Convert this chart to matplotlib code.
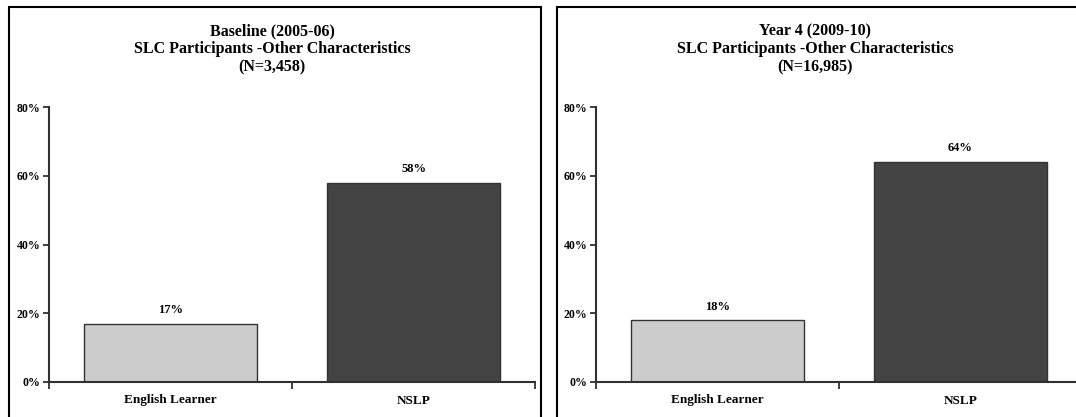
import numpy as np
import matplotlib
matplotlib.use("Agg")
import matplotlib.pyplot as plt
from matplotlib.patches import Rectangle
from matplotlib.ticker import FixedLocator, PercentFormatter

plt.rcParams['font.family'] = ['Liberation Serif', 'DejaVu Serif']
plt.rcParams['font.weight'] = 'bold'

categories = ['English Learner', 'NSLP']
baseline_vals = [17, 58]
year4_vals = [18, 64]
panel_titles = ['Baseline (2005-06)\nSLC Participants -Other Characteristics\n(N=3,458)',
                'Year 4 (2009-10)\nSLC Participants -Other Characteristics\n(N=16,985)']
bar_colors = ['#cccccc', '#434343']

W, H = 1076, 417
fig = plt.figure(figsize=(W / 100, H / 100), dpi=100)

def px(x, y):
    # pixel position (from top-left) -> figure fraction
    return x / W, 1 - y / H

def draw_panel(box_left, box_width, ax_left, title_x, vals, title):
    # outer frame of the panel, runs off the bottom edge
    fig.patches.append(Rectangle((box_left / W, -0.1), box_width / W, 1.1 - 7 / H,
                                 transform=fig.transFigure, fill=False,
                                 edgecolor='black', linewidth=1.5, zorder=0))
    tx, ty = px(title_x, 23)
    fig.text(tx, ty, title, ha='center', va='top', fontsize=11.5,
             fontweight='bold', linespacing=1.18)

    ax = fig.add_axes([ax_left / W, (H - 382) / H, 486 / W, 275 / H])
    x = np.arange(len(categories))
    bars = ax.bar(x, vals, width=0.716, color=bar_colors,
                  edgecolor='#333333', linewidth=1.0, zorder=2)
    for b, v in zip(bars, vals):
        ax.text(b.get_x() + b.get_width() / 2, v + 2.2, f'{v}%',
                ha='center', va='bottom', fontsize=9, fontweight='bold')
    ax.set_xlim(-0.5, 1.5)
    ax.set_ylim(0, 80)
    ax.set_yticks([0, 20, 40, 60, 80])
    ax.yaxis.set_major_formatter(PercentFormatter(decimals=0))
    ax.set_xticks(x)
    ax.set_xticklabels(categories)
    ax.xaxis.set_minor_locator(FixedLocator([-0.5, 0.5, 1.5]))
    ax.tick_params(axis='x', which='major', length=0, pad=9, labelsize=9.5)
    ax.tick_params(axis='x', which='minor', length=5, width=1.3,
                   direction='out', color='#303030')
    ax.tick_params(axis='y', length=4, width=1.3, direction='out',
                   color='#303030', labelsize=8.5, pad=2)
    for lab in ax.get_xticklabels() + ax.get_yticklabels():
        lab.set_fontweight('bold')
    for s in ['top', 'right']:
        ax.spines[s].set_visible(False)
    for s in ['left', 'bottom']:
        ax.spines[s].set_color('#303030')
        ax.spines[s].set_linewidth(1.5)
    ax.set_facecolor('none')
    return ax

draw_panel(9, 532, 49, 272, baseline_vals, panel_titles[0])
draw_panel(557, 532, 596, 815, year4_vals, panel_titles[1])

fig.savefig('out.png', dpi=100, facecolor='white')
